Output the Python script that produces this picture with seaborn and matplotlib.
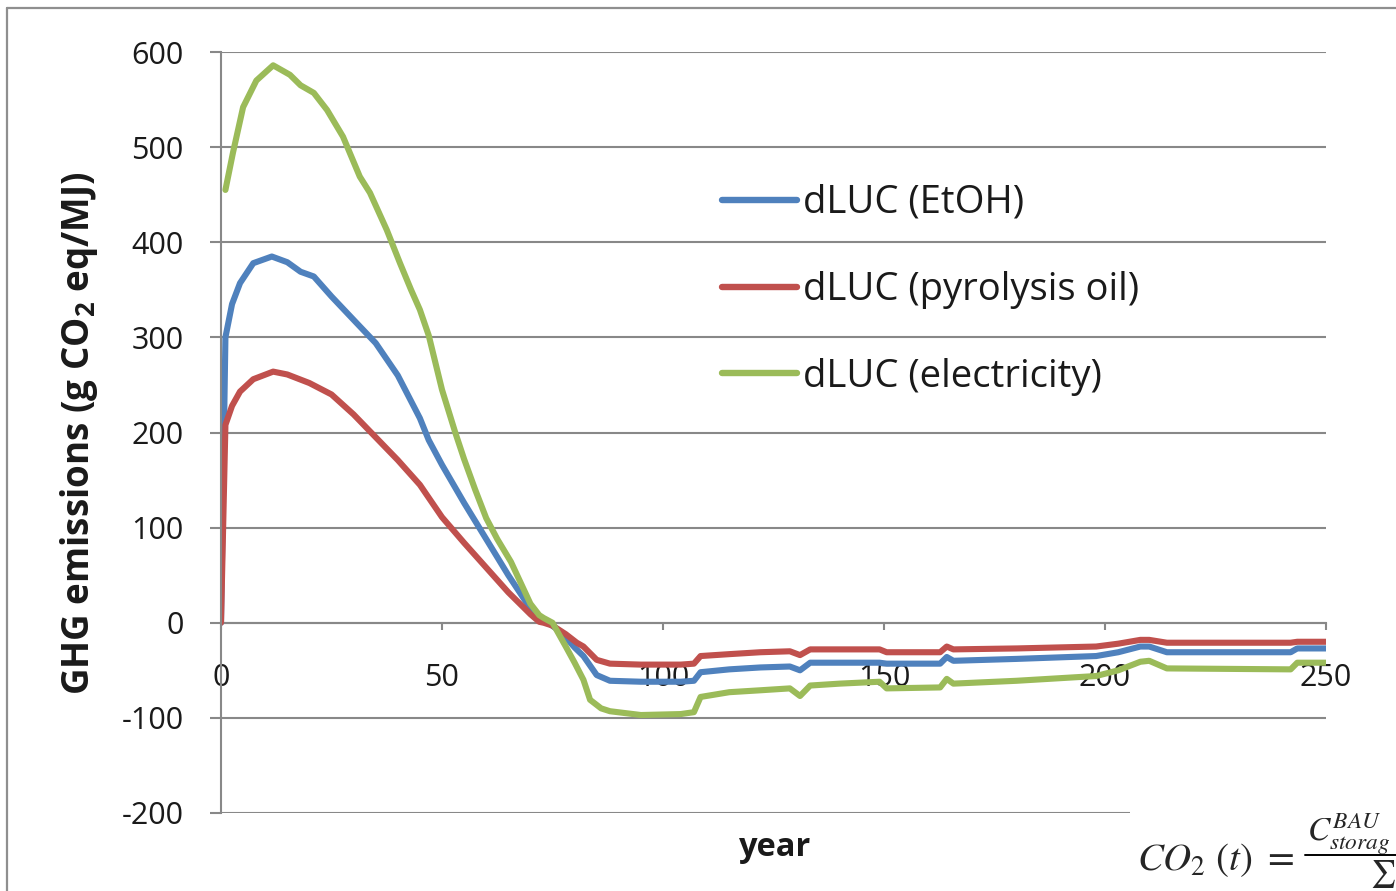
import numpy as np
import pandas as pd
import matplotlib
matplotlib.use("Agg")
import matplotlib.pyplot as plt
import seaborn as sns
from matplotlib.lines import Line2D
from matplotlib.patches import Rectangle

# ---------------- data ----------------
series_names = ["dLUC (EtOH)", "dLUC (pyrolysis oil)", "dLUC (electricity)"]

etoh_year = [0, 1, 2.5, 4.3, 7.3, 11.5, 15, 18, 21, 25, 30.7, 35, 40, 45, 47, 50, 55, 60,
             65, 70, 72, 74, 77, 80, 82, 85, 88, 95, 104, 107, 108.5, 115, 122, 128.7,
             131, 133.3, 140, 149, 150.6, 162.7, 164.2, 165.7, 180, 198, 203, 208, 210,
             214, 242, 243.5, 250]
etoh_val = [0, 300, 335, 357, 378, 385, 379, 369, 364, 343, 315, 294, 260, 215, 192, 166,
            126, 88, 50, 15, 2, 0, -10, -26, -35, -55, -61, -62, -62, -61, -52, -49, -47,
            -46, -50, -42, -42, -42, -43, -43, -36, -40, -38, -35, -31, -25, -25, -31,
            -31, -27, -27]

pyro_year = [0, 1, 2.5, 4.3, 7.3, 11.8, 15, 20, 25, 30, 35, 40, 45, 50, 55, 60, 65, 70,
             72, 73, 75, 78, 80.5, 82, 85, 88, 95, 104, 107, 108.5, 115, 122, 128.7, 131,
             133.3, 140, 149, 150.6, 162.7, 164.2, 165.7, 180, 198, 203, 208, 210, 214,
             242, 243.5, 250]
pyro_val = [0, 208, 228, 243, 256, 264, 261, 252, 240, 219, 195, 171, 145, 111, 84, 58,
            32, 9, 1, 0, -3, -12, -21, -25, -39, -43, -44, -44, -43, -35, -33, -31, -30,
            -34, -28, -28, -28, -31, -31, -25, -28, -27, -25, -22, -18, -18, -21, -21,
            -20, -20]

elec_year = [1, 2.7, 5, 8, 11.8, 15.6, 18, 21, 24, 27.6, 31.4, 33.7, 37.5, 40.5, 43, 45,
             47, 50, 53, 55, 57.5, 60, 62.5, 65.6, 68, 70, 72, 73, 75, 78, 80, 82, 83.5, 86,
             88, 95, 104, 107, 108.5, 115, 122, 128.7, 131, 133.3, 140, 149, 150.6, 162.7,
             164.2, 165.7, 180, 198, 203, 208, 210, 214, 242, 243.5, 250]
elec_val = [455, 494, 542, 570, 586, 576, 565, 557, 539, 511, 469, 452, 413, 378, 350,
            329, 302, 245, 200, 172, 140, 110, 88, 64, 40, 20, 8, 5, 0, -25, -42, -60, -81,
            -90, -93, -97, -96, -94, -78, -73, -71, -69, -77, -66, -64, -62, -69, -68, -59,
            -64, -61, -56, -50, -41, -40, -48, -49, -42, -42]

x_ticks = [0, 50, 100, 150, 200, 250]
y_ticks = [-200, -100, 0, 100, 200, 300, 400, 500, 600]
colors = ["#4F81BD", "#C0504D", "#9BBB59"]

df = pd.concat([
    pd.DataFrame({"year": etoh_year, "value": etoh_val, "series": series_names[0]}),
    pd.DataFrame({"year": pyro_year, "value": pyro_val, "series": series_names[1]}),
    pd.DataFrame({"year": elec_year, "value": elec_val, "series": series_names[2]}),
], ignore_index=True)

# ---------------- style ----------------
sns.set_theme(style="white")
plt.rcParams["font.family"] = ["Open Sans", "DejaVu Sans"]
plt.rcParams["mathtext.fontset"] = "custom"
plt.rcParams["mathtext.rm"] = "Open Sans:bold"
plt.rcParams["mathtext.it"] = "Open Sans:italic"
plt.rcParams["mathtext.bf"] = "Open Sans:bold"

W, H = 1396, 891
fig = plt.figure(figsize=(W / 100, H / 100), dpi=100)
fig.patch.set_facecolor("white")
ax = fig.add_axes([221 / W, 1 - 813 / H, 1105 / W, 761 / H])

sns.lineplot(data=df, x="year", y="value", hue="series", hue_order=series_names,
             palette=colors, linewidth=4.4, estimator=None, sort=False, ax=ax,
             legend=True)
for ln in ax.get_lines():
    ln.set_solid_capstyle("round")
    ln.set_solid_joinstyle("round")

grid_c = "#888888"
ax.set_xlim(0, 250)
ax.set_ylim(-200, 600)
ax.set_xticks(x_ticks)
ax.set_yticks(y_ticks)
ax.set_xticklabels([str(v) for v in x_ticks])
ax.set_yticklabels([str(v) for v in y_ticks])
ax.yaxis.grid(True, color=grid_c, linewidth=1.5)
ax.xaxis.grid(False)
ax.set_axisbelow(True)
for s in ["top", "right"]:
    ax.spines[s].set_visible(False)
ax.spines["left"].set_color(grid_c)
ax.spines["left"].set_linewidth(1.5)
ax.spines["bottom"].set_position(("data", 0))
ax.spines["bottom"].set_color(grid_c)
ax.spines["bottom"].set_linewidth(1.5)
ax.spines["bottom"].set_zorder(0.5)

ax.tick_params(axis="y", direction="out", length=8, width=1.5, color=grid_c,
               pad=19, labelsize=22, labelcolor="#1a1a1a", left=True)
ax.tick_params(axis="x", direction="out", length=5, width=1.5, color=grid_c,
               pad=24, labelsize=22, labelcolor="#1a1a1a", bottom=True)
for lab in ax.get_xticklabels() + ax.get_yticklabels():
    lab.set_zorder(5)

ax.set_xlabel("")
ax.set_ylabel("")
fig.text(79 / W, 1 - 433 / H, r"GHG emissions (g CO$_2$ eq/MJ)", rotation=90,
         ha="center", va="center", fontsize=26.5, fontweight="bold", color="#1a1a1a")
fig.text(775 / W, 1 - 848 / H, "year", ha="center", va="center", fontsize=23.5,
         fontweight="bold", color="#1a1a1a")

handles, labels = ax.get_legend_handles_labels()
for h in handles:
    h.set_linewidth(4.6)
    h.set_solid_capstyle("round")
leg = ax.legend(handles, labels, loc="upper left", bbox_to_anchor=(722 / W, 1 - 184 / H),
                bbox_transform=fig.transFigure, frameon=False, fontsize=27.5,
                handlelength=1.96, handletextpad=0.16, labelspacing=1.28,
                borderpad=0, borderaxespad=0)
for t in leg.get_texts():
    t.set_color("#1a1a1a")

# ---------------- equation box at bottom right ----------------
fig.patches.append(Rectangle((1130 / W, 0), 1 - 1130 / W, 1 - 795 / H,
                             transform=fig.transFigure, facecolor="white",
                             edgecolor="none", zorder=10))
fig.text(1137 / W, 1 - 870 / H, r"$CO_2\ (t)\ =$", ha="left", va="baseline",
         fontsize=28, math_fontfamily="stix", zorder=11)
fig.text(1307 / W, 1 - 841 / H, r"$C^{BAU}_{storag}$", ha="left", va="baseline",
         fontsize=24, math_fontfamily="stix", zorder=11)
fig.lines.append(Line2D([1305 / W, 1.0], [1 - 855 / H, 1 - 855 / H],
                        transform=fig.transFigure, color="black", linewidth=1.4,
                        zorder=11))
fig.text(1370 / W, 1 - 890 / H, r"$\sum$", ha="left", va="bottom",
         fontsize=20, math_fontfamily="stix", zorder=11)

# ---------------- outer frame ----------------
fc = "#8f8f8f"
fig.lines.append(Line2D([7 / W, 1.0], [1 - 8 / H, 1 - 8 / H], transform=fig.transFigure,
                        color=fc, linewidth=1.6, zorder=12))
fig.lines.append(Line2D([7 / W, 7 / W], [0, 1 - 8 / H], transform=fig.transFigure,
                        color=fc, linewidth=1.6, zorder=12))

fig.savefig("out.png", dpi=100)
